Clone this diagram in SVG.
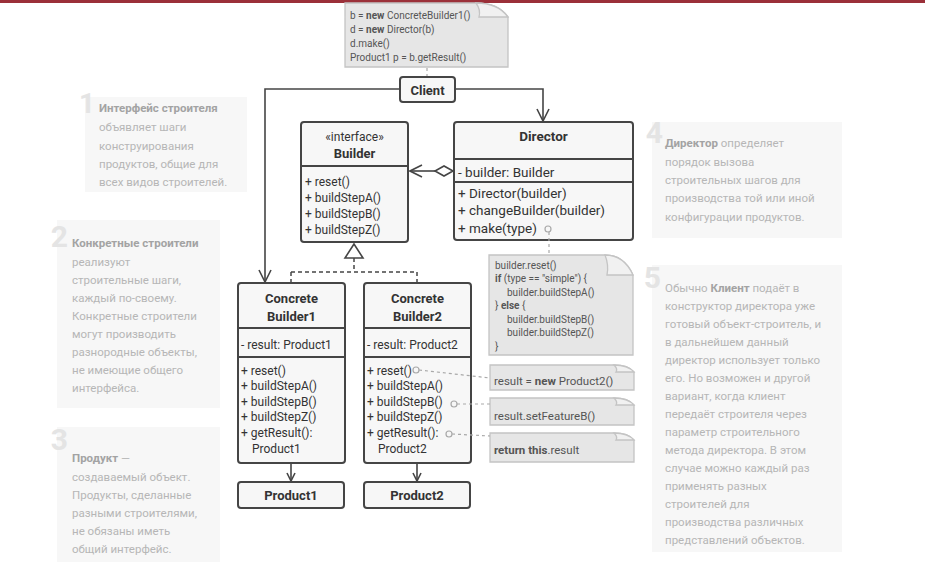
<svg xmlns="http://www.w3.org/2000/svg" width="925" height="580" viewBox="0 0 925 580">
<style>
.t{font-family:Roboto,"Liberation Sans",sans-serif;fill:#333;font-size:12px}
.tb{font-weight:bold}
.box{fill:#f7f7f7;stroke:#454545;stroke-width:2}
.dv{stroke:#454545;stroke-width:2}
.note{fill:#e6e6e6;stroke:#c4c4c4;stroke-width:1.3}
.flap{fill:#f1f1f1;stroke:#c4c4c4;stroke-width:1.3}
.ct{font-family:Roboto,"Liberation Sans",sans-serif;fill:#555;font-size:10px}
.nt{font-family:Roboto,"Liberation Sans",sans-serif;fill:#555;font-size:11.5px}
.hint{fill:#f7f7f7}
.ht{font-family:Roboto,"Liberation Sans",sans-serif;fill:#b6b6b6;font-size:11.5px}
.hb{font-weight:bold;fill:#a3a3a3}
.num{font-family:Roboto,"Liberation Sans",sans-serif;font-weight:bold;font-size:30px;fill:#e4e4e4}
.ln{stroke:#454545;stroke-width:1.6;fill:none}
.dash{stroke:#454545;stroke-width:1.5;fill:none;stroke-dasharray:4 3}
.dot{stroke:#a9a9a9;stroke-width:1.2;fill:none;stroke-dasharray:3 3}
.circ{fill:#f7f7f7;stroke:#a9a9a9;stroke-width:1.2}
</style>
<defs>
<marker id="arr" viewBox="0 0 14 14" refX="13" refY="7" markerWidth="14" markerHeight="14" markerUnits="userSpaceOnUse" orient="auto">
<path d="M1,1 L13,7 L1,13" fill="none" stroke="#454545" stroke-width="1.6"/>
</marker>
<marker id="arrs" viewBox="0 0 10 10" refX="9" refY="5" markerWidth="10" markerHeight="10" markerUnits="userSpaceOnUse" orient="auto">
<path d="M1,1 L9,5 L1,9" fill="none" stroke="#454545" stroke-width="1.6"/>
</marker>
</defs>
<rect x="0" y="0" width="925" height="3" fill="#9b3039"/>

<!-- hint notes -->
<g id="hint1">
<rect class="hint" x="85" y="97" width="162" height="95"/>
<text class="num" x="95" y="113" text-anchor="end" style="font-size:28px">1</text>
<text class="ht" x="99" y="112"><tspan class="hb">Интерфейс строителя</tspan></text>
<text class="ht" x="99" y="131">объявляет шаги</text>
<text class="ht" x="99" y="149.5">конструирования</text>
<text class="ht" x="99" y="168">продуктов, общие для</text>
<text class="ht" x="99" y="186">всех видов строителей.</text>
</g>
<g id="hint2">
<rect class="hint" x="57" y="220" width="163" height="188"/>
<text class="num" x="68" y="247" text-anchor="end">2</text>
<text class="ht" x="72" y="247"><tspan class="hb">Конкретные строители</tspan></text>
<text class="ht" x="72" y="266">реализуют</text>
<text class="ht" x="72" y="284">строительные шаги,</text>
<text class="ht" x="72" y="302">каждый по-своему.</text>
<text class="ht" x="72" y="320">Конкретные строители</text>
<text class="ht" x="72" y="338">могут производить</text>
<text class="ht" x="72" y="356">разнородные объекты,</text>
<text class="ht" x="72" y="374">не имеющие общего</text>
<text class="ht" x="72" y="392">интерфейса.</text>
</g>
<g id="hint3">
<rect class="hint" x="57" y="427" width="163" height="135"/>
<text class="num" x="68" y="450" text-anchor="end">3</text>
<text class="ht" x="72" y="462"><tspan class="hb">Продукт</tspan> —</text>
<text class="ht" x="72" y="481">создаваемый объект.</text>
<text class="ht" x="72" y="499">Продукты, сделанные</text>
<text class="ht" x="72" y="517">разными строителями,</text>
<text class="ht" x="72" y="535">не обязаны иметь</text>
<text class="ht" x="72" y="553">общий интерфейс.</text>
</g>
<g id="hint4">
<rect class="hint" x="652" y="122" width="190" height="116"/>
<text class="num" x="663" y="143" text-anchor="end">4</text>
<text class="ht" x="665" y="147"><tspan class="hb">Директор</tspan> определяет</text>
<text class="ht" x="665" y="166">порядок вызова</text>
<text class="ht" x="665" y="184">строительных шагов для</text>
<text class="ht" x="665" y="202">производства той или иной</text>
<text class="ht" x="665" y="221">конфигурации продуктов.</text>
</g>
<g id="hint5">
<rect class="hint" x="652" y="265" width="190" height="287"/>
<text class="num" x="661" y="288" text-anchor="end">5</text>
<text class="ht" x="665" y="292">Обычно <tspan class="hb">Клиент</tspan> подаёт в</text>
<text class="ht" x="665" y="310">конструктор директора уже</text>
<text class="ht" x="665" y="328">готовый объект-строитель, и</text>
<text class="ht" x="665" y="346">в дальнейшем данный</text>
<text class="ht" x="665" y="364">директор использует только</text>
<text class="ht" x="665" y="382">его. Но возможен и другой</text>
<text class="ht" x="665" y="400">вариант, когда клиент</text>
<text class="ht" x="665" y="418">передаёт строителя через</text>
<text class="ht" x="665" y="436">параметр строительного</text>
<text class="ht" x="665" y="454">метода директора. В этом</text>
<text class="ht" x="665" y="472">случае можно каждый раз</text>
<text class="ht" x="665" y="490">применять разных</text>
<text class="ht" x="665" y="508">строителей для</text>
<text class="ht" x="665" y="526">производства различных</text>
<text class="ht" x="665" y="544">представлений объектов.</text>
</g>

<!-- code notes -->
<g id="noteClient">
<path class="note" d="M345,3 H476 Q498,3 508,17 V67 H345 Z"/>
<path class="flap" d="M476,3 Q481,10 479,17 L508,17 Q498,3 476,3 Z"/>
<text class="ct" x="350" y="18.5">b = <tspan class="tb">new</tspan> ConcreteBuilder1()</text>
<text class="ct" x="350" y="32.5">d = <tspan class="tb">new</tspan> Director(b)</text>
<text class="ct" x="350" y="46.5">d.make()</text>
<text class="ct" x="350" y="60.5">Product1 p = b.getResult()</text>
</g>
<g id="noteMake">
<path class="note" d="M489,255 H605 Q624,255 633,275 V355 H489 Z"/>
<path class="flap" d="M605,255 Q609,265 607,275 L633,275 Q624,255 605,255 Z"/>
<text class="ct" x="495" y="268.5">builder.reset()</text>
<text class="ct" x="495" y="282"><tspan class="tb">if</tspan> (type == "simple") {</text>
<text class="ct" x="507" y="295.5">builder.buildStepA()</text>
<text class="ct" x="495" y="309">} <tspan class="tb">else</tspan> {</text>
<text class="ct" x="507" y="322.5">builder.buildStepB()</text>
<text class="ct" x="507" y="336">builder.buildStepZ()</text>
<text class="ct" x="495" y="349.5">}</text>
</g>
<g id="noteReset">
<path class="note" d="M490,365 H614 Q628,365 634,372 V390 H490 Z"/>
<path class="flap" d="M614,365 Q618,369 616,372 L634,372 Q628,365 614,365 Z"/>
<text class="nt" x="494" y="385">result = <tspan class="tb">new</tspan> Product2()</text>
</g>
<g id="noteStepB">
<path class="note" d="M490,398 H614 Q628,398 634,405 V425 H490 Z"/>
<path class="flap" d="M614,398 Q618,402 616,405 L634,405 Q628,398 614,398 Z"/>
<text class="nt" x="494" y="420">result.setFeatureB()</text>
</g>
<g id="noteResult">
<path class="note" d="M490,433 H614 Q628,433 634,440 V462 H490 Z"/>
<path class="flap" d="M614,433 Q618,437 616,440 L634,440 Q628,433 614,433 Z"/>
<text class="nt" x="494" y="454"><tspan class="tb">return this</tspan>.result</text>
</g>

<!-- class nodes -->
<g id="client">
<rect class="box" x="400" y="77" width="55" height="25" rx="3"/>
<text class="t tb" x="427.5" y="94.5" text-anchor="middle" style="font-size:13px">Client</text>
</g>
<g id="builder">
<rect class="box" x="301" y="122" width="107" height="120" rx="3"/>
<line class="dv" x1="301" y1="166" x2="408" y2="166"/>
<text class="t" x="354.5" y="141" text-anchor="middle">«interface»</text>
<text class="t tb" x="354.5" y="158" text-anchor="middle" style="font-size:13px">Builder</text>
<text class="t" x="305" y="186">+ reset()</text>
<text class="t" x="305" y="201.5">+ buildStepA()</text>
<text class="t" x="305" y="217.5">+ buildStepB()</text>
<text class="t" x="305" y="233.5">+ buildStepZ()</text>
</g>
<g id="director">
<rect class="box" x="454" y="122" width="179" height="118" rx="3"/>
<line class="dv" x1="454" y1="159" x2="633" y2="159"/>
<line class="dv" x1="454" y1="182" x2="633" y2="182"/>
<text class="t tb" x="543.5" y="141" text-anchor="middle" style="font-size:13.5px">Director</text>
<text class="t" x="458" y="177" style="font-size:13.5px">- builder: Builder</text>
<text class="t" x="458" y="197.5" style="font-size:13.5px">+ Director(builder)</text>
<text class="t" x="458" y="215" style="font-size:13.5px">+ changeBuilder(builder)</text>
<text class="t" x="458" y="233" style="font-size:13.5px">+ make(type)</text>
</g>
<g id="concreteBuilder1">
<rect class="box" x="238" y="283" width="107" height="180" rx="3"/>
<line class="dv" x1="238" y1="328" x2="345" y2="328"/>
<line class="dv" x1="238" y1="357" x2="345" y2="357"/>
<text class="t tb" x="291.5" y="303" text-anchor="middle" style="font-size:13px">Concrete</text>
<text class="t tb" x="291.5" y="321" text-anchor="middle" style="font-size:13px">Builder1</text>
<text class="t" x="241" y="348.5">- result: Product1</text>
<text class="t" x="241" y="374.5">+ reset()</text>
<text class="t" x="241" y="390">+ buildStepA()</text>
<text class="t" x="241" y="405.5">+ buildStepB()</text>
<text class="t" x="241" y="421">+ buildStepZ()</text>
<text class="t" x="241" y="437">+ getResult():</text>
<text class="t" x="252" y="453">Product1</text>
</g>
<g id="concreteBuilder2">
<rect class="box" x="364" y="283" width="107" height="180" rx="3"/>
<line class="dv" x1="364" y1="328" x2="471" y2="328"/>
<line class="dv" x1="364" y1="357" x2="471" y2="357"/>
<text class="t tb" x="417.5" y="303" text-anchor="middle" style="font-size:13px">Concrete</text>
<text class="t tb" x="417.5" y="321" text-anchor="middle" style="font-size:13px">Builder2</text>
<text class="t" x="367" y="348.5">- result: Product2</text>
<text class="t" x="367" y="374.5">+ reset()</text>
<text class="t" x="367" y="390">+ buildStepA()</text>
<text class="t" x="367" y="405.5">+ buildStepB()</text>
<text class="t" x="367" y="421">+ buildStepZ()</text>
<text class="t" x="367" y="437">+ getResult():</text>
<text class="t" x="378" y="453">Product2</text>
</g>
<g id="product1">
<rect class="box" x="238" y="482" width="106" height="26" rx="3"/>
<text class="t tb" x="291" y="500" text-anchor="middle" style="font-size:13px">Product1</text>
</g>
<g id="product2">
<rect class="box" x="364" y="482" width="106" height="26" rx="3"/>
<text class="t tb" x="417" y="500" text-anchor="middle" style="font-size:13px">Product2</text>
</g>

<!-- connectors -->
<g id="connectors">
<path class="ln" d="M400,89 H265 V282" marker-end="url(#arr)"/>
<path class="ln" d="M455,89 H543 V121" marker-end="url(#arr)"/>
<path class="ln" d="M436,171 H410" marker-end="url(#arr)"/>
<path d="M453,171 L444,166 L435,171 L444,176 Z" fill="#fff" stroke="#454545" stroke-width="1.6"/>
<path class="dash" d="M354,258 V272 M291,272 H417 M291,272 V283 M417,272 V283"/>
<path d="M354,244 L345,258 L363,258 Z" fill="#fff" stroke="#454545" stroke-width="1.6"/>
<path class="ln" d="M291,464 V481" marker-end="url(#arrs)"/>
<path class="ln" d="M417,464 V481" marker-end="url(#arrs)"/>
<path class="dot" d="M427,68 V76"/>
<path class="dot" d="M549,232 V255"/>
<path class="dot" d="M419,370 L490,378"/>
<path class="dot" d="M457,404 H490"/>
<path class="dot" d="M452,434 L490,436"/>
<circle class="circ" cx="548" cy="229" r="3"/>
<circle class="circ" cx="416" cy="370" r="3"/>
<circle class="circ" cx="454" cy="404" r="3"/>
<circle class="circ" cx="449" cy="434" r="3"/>
</g>
</svg>
